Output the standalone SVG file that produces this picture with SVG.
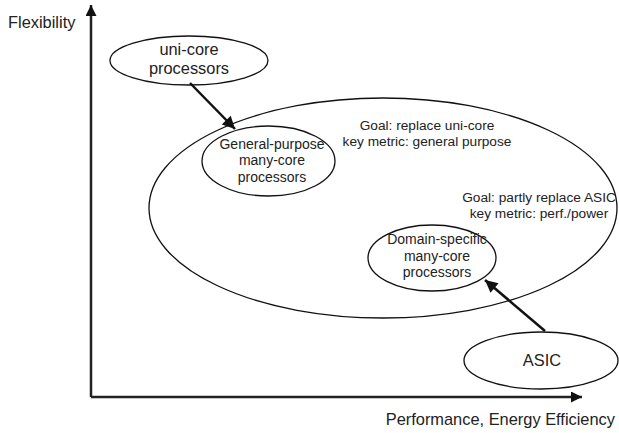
<svg xmlns="http://www.w3.org/2000/svg" width="619" height="433" viewBox="0 0 619 433">
  <style>
    text { font-family: "Liberation Sans", Arial, sans-serif; fill: #222; }
    .node { fill: none; stroke: #111; stroke-width: 1.3; }
    .axis { stroke: #222; stroke-width: 2.5; fill: none; }
    .edge { stroke: #111; stroke-width: 2.5; fill: none; }
    .lg { font-size: 16.4px; }
    .md { font-size: 13.7px; }
    .sm { font-size: 14px; }
  </style>
  <defs>
    <marker id="head" viewBox="0 0 10 10" refX="10" refY="5" markerWidth="6" markerHeight="5" markerUnits="strokeWidth" orient="auto">
      <path d="M0,0 L10,5 L0,10 Z" fill="#111"/>
    </marker>
    <marker id="axhead" viewBox="0 0 10 10" refX="10" refY="5" markerWidth="7.5" markerHeight="4.4" markerUnits="strokeWidth" orient="auto">
      <path d="M0,0 L10,5 L0,10 Z" fill="#111"/>
    </marker>
  </defs>

  <!-- axes -->
  <g id="axes">
    <path class="axis" d="M91,397 L91,5" marker-end="url(#axhead)"/>
    <path class="axis" d="M91,397 L582,397" marker-end="url(#axhead)"/>
    <text class="lg" x="8" y="28">Flexibility</text>
    <text class="lg" x="615" y="425" text-anchor="end">Performance, Energy Efficiency</text>
  </g>

  <!-- many-core region -->
  <g id="manycore-region">
    <ellipse class="node" cx="383" cy="208" rx="234" ry="110"/>
    <text class="md" x="427" y="130" text-anchor="middle">Goal: replace uni-core</text>
    <text class="md" x="427" y="146" text-anchor="middle">key metric: general purpose</text>
    <text class="md" x="539" y="202" text-anchor="middle">Goal: partly replace ASIC</text>
    <text class="md" x="539" y="218" text-anchor="middle">key metric: perf./power</text>
  </g>

  <g id="unicore">
    <ellipse class="node" cx="189" cy="60.5" rx="79" ry="24.5"/>
    <text class="lg" x="189" y="55" text-anchor="middle">uni-core</text>
    <text class="lg" x="189" y="74" text-anchor="middle">processors</text>
  </g>

  <g id="general-purpose">
    <ellipse class="node" cx="268.5" cy="161" rx="66.5" ry="35"/>
    <text class="sm" x="272" y="148.5" text-anchor="middle">General-purpose</text>
    <text class="sm" x="272" y="165" text-anchor="middle">many-core</text>
    <text class="sm" x="272" y="181.5" text-anchor="middle">processors</text>
  </g>

  <g id="domain-specific">
    <ellipse class="node" cx="432" cy="258" rx="64" ry="33"/>
    <text class="sm" x="437" y="244" text-anchor="middle">Domain-specific</text>
    <text class="sm" x="437" y="260.5" text-anchor="middle">many-core</text>
    <text class="sm" x="437" y="277" text-anchor="middle">processors</text>
  </g>

  <g id="asic">
    <ellipse class="node" cx="541" cy="360.5" rx="77" ry="28.5"/>
    <text class="lg" x="542" y="366" text-anchor="middle">ASIC</text>
  </g>

  <!-- connectors -->
  <g id="connectors">
    <path class="edge" d="M190,83 L235,129" marker-end="url(#head)"/>
    <path class="edge" d="M545,331 L485,280" marker-end="url(#head)"/>
  </g>
</svg>
